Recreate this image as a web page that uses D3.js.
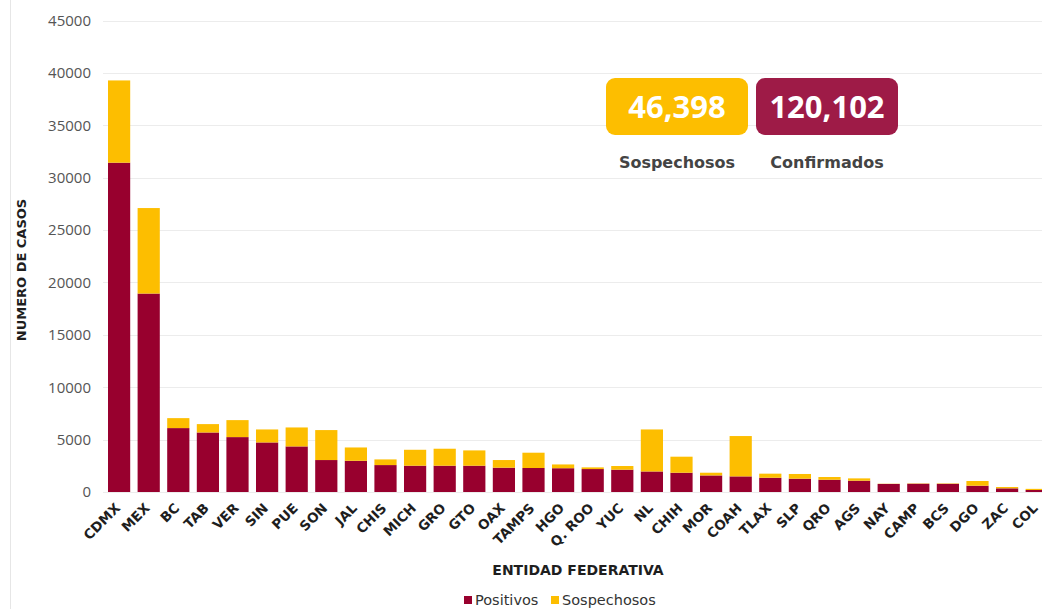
<!DOCTYPE html>
<html>
<head>
<meta charset="utf-8">
<script src="https://cdn.jsdelivr.net/npm/d3@7"></script>
<style>
  html, body { margin: 0; padding: 0; background: #fff; }
  svg { display: block; font-family: "DejaVu Sans", sans-serif; }
</style>
</head>
<body>
<svg id="chart" width="1042" height="609"></svg>
<script>
const estados = ["CDMX","MEX","BC","TAB","VER","SIN","PUE","SON","JAL","CHIS","MICH","GRO","GTO","OAX","TAMPS","HGO","Q. ROO","YUC","NL","CHIH","MOR","COAH","TLAX","SLP","QRO","AGS","NAY","CAMP","BCS","DGO","ZAC","COL"];
const positivos = [31430,18940,6100,5680,5240,4730,4350,3050,2980,2570,2510,2510,2510,2320,2290,2270,2190,2130,1960,1840,1580,1490,1360,1270,1170,1080,770,790,780,600,350,190];
const sospechosos = [7850,8160,950,800,1620,1240,1810,2860,1270,540,1520,1620,1460,730,1460,360,160,350,4010,1530,260,3850,390,450,260,220,20,30,40,450,125,110];
const yTicks = [0,5000,10000,15000,20000,25000,30000,35000,40000,45000];
const totalSospechosos = "46,398";
const totalConfirmados = "120,102";
const seriesNames = ["Positivos","Sospechosos"];

const colPos = "#98002e";
const colSos = "#fdbe00";

const svg = d3.select("#chart");

// faint frame line on the left
svg.append("line").attr("x1",10.5).attr("x2",10.5).attr("y1",0).attr("y2",609)
  .attr("stroke","#e6e6e6").attr("stroke-width",1);

const y = d3.scaleLinear().domain([0,45000]).range([492,20.5]);
const x = d3.scaleBand().domain(estados).range([104.3,1051.5]).paddingInner(0.25).paddingOuter(0.125);

// gridlines
svg.append("g").selectAll("line").data(yTicks).join("line")
  .attr("x1",103).attr("x2",1042)
  .attr("y1",d=>Math.round(y(d))+0.5).attr("y2",d=>Math.round(y(d))+0.5)
  .attr("stroke","#ececec").attr("stroke-width",1.2);

// y axis labels
const yAxis = d3.axisLeft(y).tickValues(yTicks).tickSize(0).tickPadding(0).tickFormat(d3.format("d"));
const gy = svg.append("g").attr("transform","translate(91,0)").call(yAxis);
gy.select(".domain").remove();
gy.selectAll("text").attr("fill","#555").style("font-size","15px").style("font-family","'Open Sans', sans-serif");

// stacked data
const data = estados.map((e,i)=>({estado:e, Positivos:positivos[i], Sospechosos:sospechosos[i]}));
const stack = d3.stack().keys(seriesNames)(data);
const colors = {Positivos:colPos, Sospechosos:colSos};

svg.append("g").selectAll("g").data(stack).join("g")
  .attr("fill",d=>colors[d.key])
  .selectAll("rect").data(d=>d).join("rect")
  .attr("x",d=>x(d.data.estado))
  .attr("width",x.bandwidth())
  .attr("y",d=>y(d[1]))
  .attr("height",d=>y(d[0])-y(d[1]));

// x labels
const xAxis = d3.axisBottom(x).tickSize(0).tickPadding(0);
const gx = svg.append("g").attr("transform","translate(0,492)").call(xAxis);
gx.select(".domain").remove();
gx.selectAll("text")
  .attr("text-anchor","end")
  .attr("dy","0")
  .attr("dx","0")
  .attr("transform","translate(2,17) rotate(-45)")
  .attr("fill","#1e1e1e")
  .style("font-size","13.5px").style("font-weight","700")
  .style("font-family","'DejaVu Sans', sans-serif");

// axis titles
svg.append("text").attr("transform","translate(26,270) rotate(-90)")
  .attr("text-anchor","middle").attr("fill","#1e1e1e")
  .style("font-size","13px").style("font-weight","700").text("NUMERO DE CASOS");
svg.append("text").attr("x",578).attr("y",575)
  .attr("text-anchor","middle").attr("fill","#1e1e1e")
  .style("font-size","14px").style("font-weight","700").text("ENTIDAD FEDERATIVA");

// legend
const leg = svg.append("g");
const legItems = [{n:seriesNames[0],c:colPos,x:463},{n:seriesNames[1],c:colSos,x:550}];
legItems.forEach(it=>{
  leg.append("rect").attr("x",it.x+1).attr("y",596).attr("width",8).attr("height",8).attr("fill",it.c);
  leg.append("text").attr("x",it.x+12).attr("y",605).attr("fill","#333")
    .style("font-size","14.5px").text(it.n);
});

// summary boxes
const boxes = [
  {v:totalSospechosos, l:"Sospechosos", c:colSos, x:606},
  {v:totalConfirmados, l:"Confirmados", c:"#9e1b47", x:756}
];
boxes.forEach(b=>{
  svg.append("rect").attr("x",b.x).attr("y",78).attr("width",142).attr("height",57)
    .attr("rx",9).attr("fill",b.c);
  svg.append("text").attr("x",b.x+71).attr("y",118).attr("text-anchor","middle")
    .attr("fill","#fff").style("font-size","31px").style("font-weight","700")
    .style("font-family","'Open Sans', sans-serif").text(b.v);
  svg.append("text").attr("x",b.x+71).attr("y",168).attr("text-anchor","middle")
    .attr("fill","#444").style("font-size","16px").style("font-weight","700").text(b.l);
});
</script>
</body>
</html>
